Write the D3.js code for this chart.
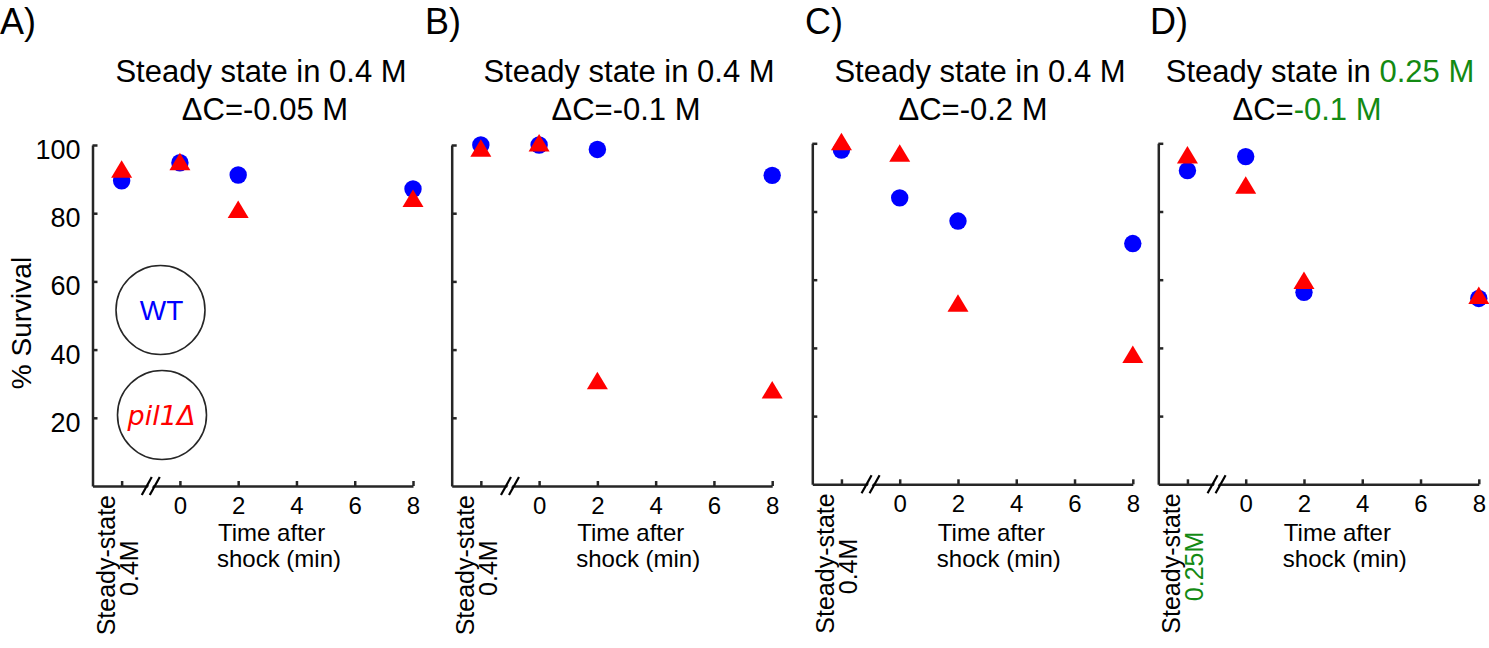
<!DOCTYPE html>
<html lang="en">
<head>
<meta charset="utf-8">
<script src="https://d3js.org/d3.v7.min.js"></script>
<style>
body { margin: 0; background: #fff; }
svg { font-family: "Liberation Sans", Arial, sans-serif; }
.axis path, .axis line { stroke: #262626; stroke-width: 2.5; fill: none; }
.axis text { fill: #000; }
</style>
</head>
<body>
<script>
// x positions: -2 = steady state, then minutes after shock
var times = [-2, 0, 2, 8];
var xTicks = [-2, 0, 2, 4, 6, 8];
var yTicks = [20, 40, 60, 80, 100];

var letters = ["A)", "B)", "C)", "D)"];
var titles1 = ["Steady state in ", "Steady state in ", "Steady state in ", "Steady state in "];
var titlesConc = ["0.4 M", "0.4 M", "0.4 M", "0.25 M"];
var titles2 = ["-0.05 M", "-0.1 M", "-0.2 M", "-0.1 M"];
var ssLabels = ["0.4M", "0.4M", "0.4M", "0.25M"];

var wt = [
  [89.5, 94.8, 91.2, 87.1],
  [100, 100, 98.7, 91.1],
  [98.0, 84.0, 77.2, 70.6],
  [92.0, 96.1, 56.3, 54.5]
];
var pil1 = [
  [92.1, 94.3, 80.3, 83.5],
  [98.3, 99.8, 30.1, 27.4],
  [99.7, 96.3, 52.3, 37.3],
  [95.8, 86.9, 59.0, 54.6]
];

var green = "#138a13";
var highlight = [false, false, false, true];

// layout
var panelLeft = [92.5, 451.7, 812.3, 1158.3];
var panelTop = [145, 145, 143.3, 143.3];
var panelW = 320.5, panelH = 341;
var letterX = [0, 425, 805, 1150];
var titleX = [261, 629, 980, 1320];
var title2X = [265, 626, 973, 1307];

var svg = d3.select("body").append("svg")
  .attr("width", 1489).attr("height", 648);

function triPath(cx, cy) {
  var h = 17.5, w = 10.5;
  return "M" + cx + "," + (cy - 2 * h / 3) + "L" + (cx + w) + "," + (cy + h / 3) +
    "L" + (cx - w) + "," + (cy + h / 3) + "Z";
}

for (var p = 0; p < 4; p++) {
  var x = d3.scaleLinear().domain([-3, 8]).range([panelLeft[p], panelLeft[p] + panelW]);
  var y = d3.scaleLinear().domain([0, 100]).range([panelTop[p] + panelH, panelTop[p]]);
  var col = highlight[p] ? green : "#000";

  svg.append("text").attr("x", letterX[p]).attr("y", 34)
    .style("font-size", "36px").text(letters[p]);

  var t1 = svg.append("text").attr("x", titleX[p]).attr("y", 82)
    .attr("text-anchor", "middle").style("font-size", "31px");
  t1.append("tspan").text(titles1[p]);
  t1.append("tspan").attr("fill", col).text(titlesConc[p]);

  var t2 = svg.append("text").attr("x", title2X[p]).attr("y", 120)
    .attr("text-anchor", "middle").style("font-size", "31px");
  t2.append("tspan").text("\u0394C=");
  t2.append("tspan").attr("fill", col).text(titles2[p]);

  // y axis
  var ya = svg.append("g").attr("class", "axis")
    .attr("transform", "translate(" + panelLeft[p] + ",0)")
    .call(d3.axisLeft(y).tickValues(yTicks).tickSizeInner(-5).tickSizeOuter(0).tickPadding(12)
      .tickFormat(p === 0 ? d3.format("d") : function() { return ""; }));
  ya.selectAll("text").style("font-size", "27px").attr("dy", "0.5em");

  // x axis
  var xa = svg.append("g").attr("class", "axis")
    .attr("transform", "translate(0," + (panelTop[p] + panelH) + ")")
    .call(d3.axisBottom(x).tickValues(xTicks).tickSizeInner(-5).tickSizeOuter(0).tickPadding(11)
      .tickFormat(function(d) { return d < 0 ? "" : d; }));
  xa.selectAll("text").style("font-size", "24px");

  // axis break mark
  var bx = x(-1), by = panelTop[p] + panelH;
  svg.append("path")
    .attr("d", "M" + (bx - 6) + "," + (by + 8) + "L" + (bx + 2) + "," + (by - 8) +
      "L" + (bx + 6) + "," + (by - 8) + "L" + (bx - 2) + "," + (by + 8) + "Z")
    .attr("fill", "#fff");
  [-4, 4].forEach(function(o) {
    svg.append("line")
      .attr("x1", bx + o - 5).attr("y1", by + 9)
      .attr("x2", bx + o + 5).attr("y2", by - 9)
      .attr("stroke", "#000").attr("stroke-width", 2.2);
  });

  // steady-state rotated label
  var sg = svg.append("g")
    .attr("transform", "translate(" + x(-2) + "," + (by + 9) + ") rotate(-90)");
  var l1 = sg.append("text").attr("x", 0).attr("y", -7)
    .attr("text-anchor", "end").style("font-size", "25px").text("Steady-state");
  var len = l1.node().getComputedTextLength();
  sg.append("text").attr("x", -len / 2 - 3).attr("y", 16)
    .attr("text-anchor", "middle").style("font-size", "25px")
    .attr("fill", col).text(ssLabels[p]);

  // x label
  svg.append("text").attr("x", panelLeft[p] + 125.5).attr("y", 541)
    .style("font-size", "24px").text("Time after");
  svg.append("text").attr("x", panelLeft[p] + 124.5).attr("y", 567)
    .style("font-size", "24px").text("shock (min)");

  // markers
  svg.append("g").selectAll("circle").data(wt[p]).join("circle")
    .attr("cx", function(d, i) { return x(times[i]); })
    .attr("cy", function(d) { return y(d); })
    .attr("r", 8.7).attr("fill", "#0000ff");
  svg.append("g").selectAll("path").data(pil1[p]).join("path")
    .attr("d", function(d, i) { return triPath(x(times[i]), y(d)); })
    .attr("fill", "#ff0000");
}

// y label
svg.append("text")
  .attr("transform", "translate(31,323) rotate(-90)")
  .attr("text-anchor", "middle").style("font-size", "28px").text("% Survival");

// strain legend circles in panel A
svg.append("circle").attr("cx", 160.5).attr("cy", 310).attr("r", 44.5)
  .attr("fill", "none").attr("stroke", "#262626").attr("stroke-width", 1.6);
svg.append("text").attr("x", 161.5).attr("y", 320).attr("text-anchor", "middle")
  .attr("fill", "#0000ff").style("font-size", "28px").text("WT");
svg.append("circle").attr("cx", 162).attr("cy", 415).attr("r", 44.5)
  .attr("fill", "none").attr("stroke", "#262626").attr("stroke-width", 1.6);
svg.append("text").attr("x", 161.5).attr("y", 425).attr("text-anchor", "middle")
  .attr("fill", "#ff0000").style("font-family", "'DejaVu Sans', sans-serif")
  .style("font-style", "italic").style("font-size", "27px").text("pil1\u0394");
</script>
</body>
</html>
